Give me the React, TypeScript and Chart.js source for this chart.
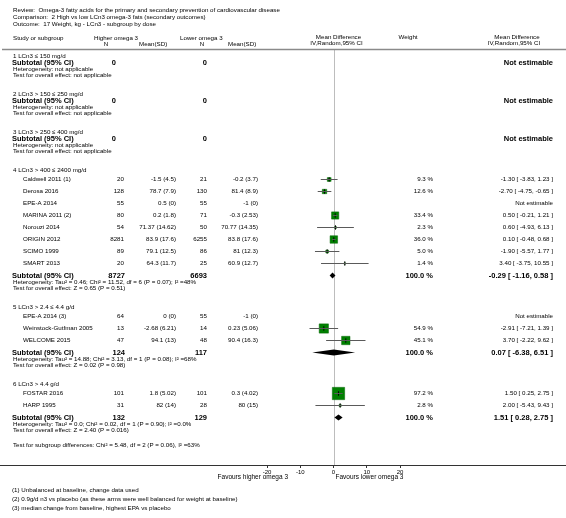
import React, { useEffect, useRef } from "react";
import { Chart, registerables } from "chart.js";

Chart.register(...registerables);

const FONT = '"Liberation Sans", Arial, Helvetica, sans-serif';

// ---------- text ----------
const reviewText = "Review:  Omega-3 fatty acids for the primary and secondary prevention of cardiovascular disease";
const comparisonText = "Comparison:  2 High vs low LCn3 omega-3 fats (secondary outcomes)";
const outcomeText = "Outcome:  17 Weight, kg - LCn3 - subgroup by dose";
const favoursLeft = "Favours higher omega 3";
const favoursRight = "Favours lower omega 3";
const subgroupDifferences = "Test for subgroup differences: Chi\u00b2 = 5.48, df = 2 (P = 0.06), I\u00b2 =63%";
const footnotes = [
  "(1) Unbalanced at baseline, change data used",
  "(2) 0.9g/d n3 vs placebo (as these arms were well balanced for weight at baseline)",
  "(3) median change from baseline, highest EPA vs placebo",
];

// ---------- subgroups ----------
const subgroupLabels = [
  "1 LCn3 \u2264 150 mg/d",
  "2 LCn3 > 150 \u2264 250 mg/d",
  "3 LCn3 > 250 \u2264 400 mg/d",
  "4 LCn3 > 400 \u2264 2400 mg/d",
  "5 LCn3 > 2.4 \u2264 4.4 g/d",
  "6 LCn3 > 4.4 g/d",
];
const subgroupTotalHigher = [0, 0, 0, 8727, 124, 132];
const subgroupTotalLower = [0, 0, 0, 6693, 117, 129];
const subgroupMD: (number | null)[] = [null, null, null, -0.29, 0.07, 1.51];
const subgroupLow: (number | null)[] = [null, null, null, -1.16, -6.38, 0.28];
const subgroupHigh: (number | null)[] = [null, null, null, 0.58, 6.51, 2.75];
const subgroupHeterogeneity = [
  "Heterogeneity: not applicable",
  "Heterogeneity: not applicable",
  "Heterogeneity: not applicable",
  "Heterogeneity: Tau\u00b2 = 0.46; Chi\u00b2 = 11.52, df = 6 (P = 0.07); I\u00b2 =48%",
  "Heterogeneity: Tau\u00b2 = 14.88; Chi\u00b2 = 3.13, df = 1 (P = 0.08); I\u00b2 =68%",
  "Heterogeneity: Tau\u00b2 = 0.0; Chi\u00b2 = 0.02, df = 1 (P = 0.90); I\u00b2 =0.0%",
];
const subgroupOverall = [
  "Test for overall effect: not applicable",
  "Test for overall effect: not applicable",
  "Test for overall effect: not applicable",
  "Test for overall effect: Z = 0.65 (P = 0.51)",
  "Test for overall effect: Z = 0.02 (P = 0.98)",
  "Test for overall effect: Z = 2.40 (P = 0.016)",
];

// ---------- studies ----------
const studyNames = [
  "Caldwell 2011 (1)", "Derosa 2016", "EPE-A 2014", "MARINA 2011 (2)", "Norouzi 2014",
  "ORIGIN 2012", "SCIMO 1999", "SMART 2013",
  "EPE-A 2014 (3)", "Weinstock-Gutfman 2005", "WELCOME 2015",
  "FOSTAR 2016", "HARP 1995",
];
const studySubgroup = [3, 3, 3, 3, 3, 3, 3, 3, 4, 4, 4, 5, 5];
const higherN = [20, 128, 55, 80, 54, 8281, 89, 20, 64, 13, 47, 101, 31];
const higherMean = [-1.5, 78.7, 0.5, 0.2, 71.37, 83.9, 79.1, 64.3, 0, -2.68, 94.1, 1.8, 82];
const higherSD = [4.5, 7.9, 0, 1.8, 14.62, 17.6, 12.5, 11.7, 0, 6.21, 13, 5.02, 14];
const lowerN = [21, 130, 55, 71, 50, 6255, 86, 25, 55, 14, 48, 101, 28];
const lowerMean = [-0.2, 81.4, -1, -0.3, 70.77, 83.8, 81, 60.9, -1, 0.23, 90.4, 0.3, 80];
const lowerSD = [3.7, 8.9, 0, 2.53, 14.35, 17.6, 12.3, 12.7, 0, 5.06, 16.3, 4.02, 15];
const studyWeight: (number | null)[] = [9.3, 12.6, null, 33.4, 2.3, 36.0, 5.0, 1.4, null, 54.9, 45.1, 97.2, 2.8];
const studyMD: (number | null)[] = [-1.3, -2.7, null, 0.5, 0.6, 0.1, -1.9, 3.4, null, -2.91, 3.7, 1.5, 2.0];
const studyLow: (number | null)[] = [-3.83, -4.75, null, -0.21, -4.93, -0.48, -5.57, -3.75, null, -7.21, -2.22, 0.25, -5.43];
const studyHigh: (number | null)[] = [1.23, -0.65, null, 1.21, 6.13, 0.68, 1.77, 10.55, null, 1.39, 9.62, 2.75, 9.43];

const xTicks = [-20, -10, 0, 10, 20];

// ---------- layout (pixel rows) ----------
const W = 566;
const H = 518;
const AXIS_Y = 465;

function computeLayout() {
  const heading: number[] = [];
  const subtotal: number[] = [];
  const het: number[] = [];
  const test: number[] = [];
  const study: number[] = new Array(studyNames.length).fill(0);
  let y = 56;
  subgroupLabels.forEach((_, g) => {
    heading.push(y);
    const members = studyNames.map((_, i) => i).filter((i) => studySubgroup[i] === g);
    if (members.length) {
      y += 9.5;
      members.forEach((i) => {
        study[i] = y;
        y += 12;
      });
    } else {
      y += 6.5;
    }
    subtotal.push(y);
    y += 7;
    het.push(y);
    y += 6;
    test.push(y);
    y += 18.5;
  });
  return { heading, subtotal, het, test, study, diff: test[test.length - 1] + 15 };
}

const fmtMSD = (m: number, sd: number) => `${m} (${sd})`;
const fmtCI = (m: number, l: number, h: number) => `${m.toFixed(2)} [ ${l.toFixed(2)}, ${h.toFixed(2)} ]`;

export default function App() {
  const ref = useRef<HTMLCanvasElement>(null);

  useEffect(() => {
    const canvas = ref.current;
    if (!canvas) return;
    const L = computeLayout();

    const datasets: any[] = [];
    // CI lines
    studyNames.forEach((_, i) => {
      const m = studyMD[i];
      if (m === null) return;
      datasets.push({
        type: "line",
        data: [
          { x: studyLow[i], y: L.study[i] },
          { x: studyHigh[i], y: L.study[i] },
        ],
        borderColor: "#5a5a5a",
        borderWidth: 1,
        pointRadius: 0,
        fill: false,
        order: 0,
      });
    });
    const idx = studyNames.map((_, i) => i).filter((i) => studyMD[i] !== null);
    // weight squares
    datasets.push({
      type: "scatter",
      data: idx.map((i) => ({ x: studyMD[i], y: L.study[i] })),
      pointStyle: "rect",
      pointRadius: idx.map((i) => (1.25 * Math.sqrt(studyWeight[i] as number)) / Math.SQRT2),
      backgroundColor: "#008000",
      borderColor: "#006400",
      borderWidth: 0.5,
      order: 2,
    });
    // centre marks
    datasets.push({
      type: "scatter",
      data: idx.map((i) => ({ x: studyMD[i], y: L.study[i] })),
      pointStyle: "line",
      rotation: 90,
      pointRadius: 2.2,
      borderColor: "#000000",
      borderWidth: 1,
      order: 0,
    });

    const txt = (ctx: CanvasRenderingContext2D, s: string, x: number, y: number, align: CanvasTextAlign = "left", size = 6.2, bold = false) => {
      ctx.font = `${bold ? "bold " : ""}${size}px ${FONT}`;
      ctx.textAlign = align;
      ctx.textBaseline = "middle";
      ctx.fillStyle = "#000";
      ctx.fillText(s, x, y);
    };

    const forestPlugin = {
      id: "forest",
      beforeDatasetsDraw(chart: any) {
        const ctx = chart.ctx as CanvasRenderingContext2D;
        const xs = chart.scales.x;
        const x0 = Math.round(xs.getPixelForValue(0)) + 0.5;
        ctx.save();
        ctx.strokeStyle = "#bdbdbd";
        ctx.lineWidth = 1;
        ctx.beginPath();
        ctx.moveTo(x0, 50);
        ctx.lineTo(x0, chart.chartArea.bottom);
        ctx.stroke();
        ctx.restore();
      },
      afterDatasetsDraw(chart: any) {
        const ctx = chart.ctx as CanvasRenderingContext2D;
        const xs = chart.scales.x;
        const ys = chart.scales.y;
        ctx.save();
        ctx.fillStyle = "#000";
        subgroupMD.forEach((m, g) => {
          if (m === null) return;
          const y = ys.getPixelForValue(L.subtotal[g]);
          ctx.beginPath();
          ctx.moveTo(xs.getPixelForValue(subgroupLow[g] as number), y);
          ctx.lineTo(xs.getPixelForValue(m), y - 3);
          ctx.lineTo(xs.getPixelForValue(subgroupHigh[g] as number), y);
          ctx.lineTo(xs.getPixelForValue(m), y + 3);
          ctx.closePath();
          ctx.fill();
        });
        ctx.restore();
      },
      afterDraw(chart: any) {
        const ctx = chart.ctx as CanvasRenderingContext2D;
        const xs = chart.scales.x;
        const x0 = xs.getPixelForValue(0);
        ctx.save();
        // title block
        txt(ctx, reviewText, 13, 10);
        txt(ctx, comparisonText, 13, 17);
        txt(ctx, outcomeText, 13, 24);
        // column headers
        txt(ctx, "Study or subgroup", 13, 38);
        txt(ctx, "Higher omega 3", 94, 38);
        txt(ctx, "N", 106, 44, "center");
        txt(ctx, "Mean(SD)", 139, 44);
        txt(ctx, "Lower omega 3", 180, 38);
        txt(ctx, "N", 202, 44, "center");
        txt(ctx, "Mean(SD)", 228, 44);
        txt(ctx, "Mean Difference", x0 + 5, 37, "center");
        txt(ctx, "IV,Random,95% CI", x0 + 3, 43, "center");
        txt(ctx, "Weight", 408, 37, "center");
        txt(ctx, "Mean Difference", 517, 37, "center");
        txt(ctx, "IV,Random,95% CI", 514, 43, "center");
        // header rule
        ctx.strokeStyle = "#8a8a8a";
        ctx.lineWidth = 1.5;
        ctx.beginPath();
        ctx.moveTo(2, 49.5);
        ctx.lineTo(W, 49.5);
        ctx.stroke();

        // subgroups
        subgroupLabels.forEach((lab, g) => {
          txt(ctx, lab, 13, L.heading[g]);
          const ys = L.subtotal[g];
          txt(ctx, "Subtotal (95% CI)", 12, ys, "left", 7.5, true);
          if (subgroupTotalHigher[g] === 0) {
            txt(ctx, "0", 116, ys, "right", 7.5, true);
          } else {
            txt(ctx, String(subgroupTotalHigher[g]), 125, ys, "right", 7.5, true);
          }
          txt(ctx, String(subgroupTotalLower[g]), 207, ys, "right", 7.5, true);
          const m = subgroupMD[g];
          if (m === null) {
            txt(ctx, "Not estimable", 553, ys, "right", 7.5, true);
          } else {
            txt(ctx, "100.0 %", 433, ys, "right", 7.5, true);
            txt(ctx, fmtCI(m, subgroupLow[g] as number, subgroupHigh[g] as number), 553, ys, "right", 7.5, true);
          }
          txt(ctx, subgroupHeterogeneity[g], 13, L.het[g]);
          txt(ctx, subgroupOverall[g], 13, L.test[g]);
        });

        // studies
        studyNames.forEach((name, i) => {
          const y = L.study[i];
          txt(ctx, name, 23, y);
          txt(ctx, String(higherN[i]), 124, y, "right");
          txt(ctx, fmtMSD(higherMean[i], higherSD[i]), 176, y, "right");
          txt(ctx, String(lowerN[i]), 207, y, "right");
          txt(ctx, fmtMSD(lowerMean[i], lowerSD[i]), 258, y, "right");
          const m = studyMD[i];
          if (m === null) {
            txt(ctx, "Not estimable", 553, y, "right");
          } else {
            txt(ctx, `${(studyWeight[i] as number).toFixed(1)} %`, 433, y, "right");
            txt(ctx, fmtCI(m, studyLow[i] as number, studyHigh[i] as number), 553, y, "right");
          }
        });

        txt(ctx, subgroupDifferences, 13, L.diff);

        // full-width axis rule
        const ay = Math.round(chart.chartArea.bottom) + 0.5;
        ctx.strokeStyle = "#333";
        ctx.lineWidth = 1;
        ctx.beginPath();
        ctx.moveTo(0, ay);
        ctx.lineTo(W, ay);
        ctx.stroke();

        txt(ctx, favoursLeft, 288, ay + 12, "right", 6.5);
        txt(ctx, favoursRight, x0 + 2, ay + 12, "left", 6.5);

        footnotes.forEach((f, k) => txt(ctx, f, 12, ay + 25 + k * 9));
        ctx.restore();
      },
    };

    const chart = new Chart(canvas, {
      type: "scatter",
      data: { datasets },
      options: {
        animation: false,
        responsive: false,
        events: [],
        layout: { padding: { left: 267, right: W - 400, top: 0, bottom: 0 }, autoPadding: false } as any,
        plugins: { legend: { display: false }, tooltip: { enabled: false } },
        scales: {
          x: {
            type: "linear",
            min: -20,
            max: 20,
            afterBuildTicks: (scale: any) => {
              scale.ticks = xTicks.map((v) => ({ value: v }));
            },
            afterFit: (scale: any) => {
              scale.height = H - AXIS_Y;
            },
            ticks: {
              autoSkip: false,
              maxRotation: 0,
              padding: 1,
              color: "#000",
              font: { size: 6, family: FONT },
              callback: (v: any) => String(v),
            },
            grid: { drawOnChartArea: false, drawTicks: true, tickLength: 3, color: "#333", lineWidth: 1 },
            border: { display: true, color: "#333", width: 1 },
          },
          y: { type: "linear", display: false, min: 0, max: AXIS_Y, reverse: true },
        },
      },
      plugins: [forestPlugin],
    });
    return () => chart.destroy();
  }, []);

  return (
    <div style={{ position: "absolute", left: 0, top: 0, width: W, height: H, background: "#fff" }}>
      <canvas ref={ref} width={W} height={H} />
    </div>
  );
}
